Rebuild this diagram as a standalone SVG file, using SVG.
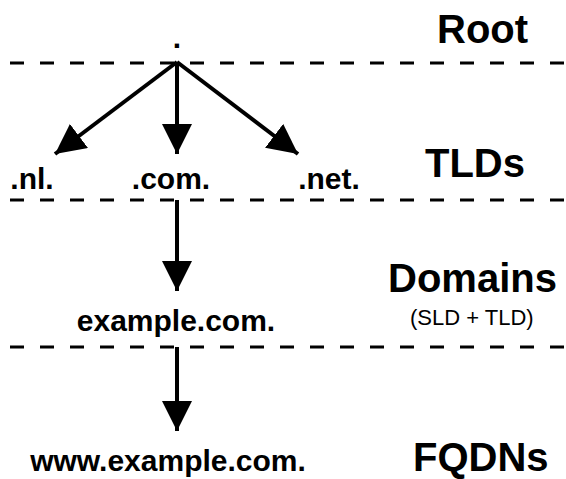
<svg xmlns="http://www.w3.org/2000/svg" width="566" height="479" viewBox="0 0 566 479">
  <style>
    .sep { stroke: #000; stroke-width: 3; stroke-dasharray: 14 16; fill: none; }
    .edge { stroke: #000; stroke-width: 4; fill: none; }
    .name { font-family: "Liberation Sans", Arial, sans-serif; font-weight: bold; font-size: 30px; fill: #000; }
    .level { font-family: "Liberation Sans", Arial, sans-serif; font-weight: bold; font-size: 40px; fill: #000; }
    .note { font-family: "Liberation Sans", Arial, sans-serif; font-size: 22px; fill: #000; }
  </style>
  <defs>
    <marker id="head" markerUnits="userSpaceOnUse" markerWidth="30" markerHeight="30" viewBox="0 0 30 30" refX="30" refY="15" orient="auto">
      <path d="M0,0 L30,15 L0,30 Z" fill="#000"/>
    </marker>
  </defs>
  <rect width="566" height="479" fill="#fff"/>

  <!-- level separators -->
  <g id="separators">
    <line class="sep" x1="10" y1="63" x2="566" y2="63"/>
    <line class="sep" x1="10" y1="200" x2="566" y2="200"/>
    <line class="sep" x1="10" y1="347" x2="566" y2="347"/>
  </g>

  <!-- level headings -->
  <g id="levels">
    <text class="level" x="437" y="43">Root</text>
    <text class="level" x="425" y="177">TLDs</text>
    <text class="level" x="388" y="292">Domains</text>
    <text class="note" x="410" y="325">(SLD + TLD)</text>
    <text class="level" x="413" y="471">FQDNs</text>
  </g>

  <!-- connectors -->
  <g id="connectors">
    <line class="edge" x1="177" y1="62" x2="55" y2="154" marker-end="url(#head)"/>
    <line class="edge" x1="177" y1="62" x2="177" y2="154" marker-end="url(#head)"/>
    <line class="edge" x1="177" y1="62" x2="298" y2="154" marker-end="url(#head)"/>
    <line class="edge" x1="177" y1="200" x2="177" y2="291" marker-end="url(#head)"/>
    <line class="edge" x1="177" y1="347" x2="177" y2="431" marker-end="url(#head)"/>
  </g>

  <!-- nodes -->
  <g id="root"><text class="name" x="177" y="48" text-anchor="middle">.</text></g>
  <g id="nl"><text class="name" x="32" y="189" text-anchor="middle">.nl.</text></g>
  <g id="com"><text class="name" x="171" y="189" text-anchor="middle">.com.</text></g>
  <g id="net"><text class="name" x="329" y="189" text-anchor="middle">.net.</text></g>
  <g id="example"><text class="name" x="176" y="331" text-anchor="middle">example.com.</text></g>
  <g id="www"><text class="name" x="168" y="471" text-anchor="middle">www.example.com.</text></g>
</svg>
